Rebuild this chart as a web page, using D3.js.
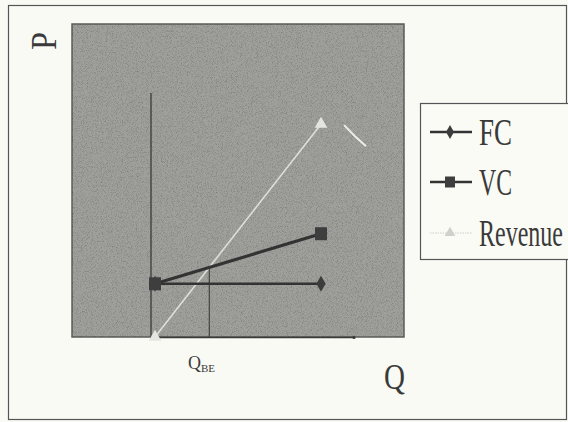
<!DOCTYPE html>
<html>
<head>
<meta charset="utf-8">
<script src="https://cdn.jsdelivr.net/npm/d3@7"></script>
<style>
  body { margin: 0; background: #fafaf5; }
  svg { display: block; }
  text { font-family: "Liberation Serif", "Times New Roman", serif; fill: #3a3a3a; }
</style>
</head>
<body>
<svg id="chart"></svg>
<script>
// data
var quantities = ["Q0", "Q1"];
var fc = [17, 17];
var vc = [17, 33];
var revenue = [0, 68];
var seriesNames = ["FC", "VC", "Revenue"];

var width = 568, height = 422;
var plot = {left: 72, right: 404, top: 24, bottom: 337};

var svg = d3.select("#chart")
    .attr("width", width)
    .attr("height", height);

// squeeze a text to a given width (scanned serif looks condensed)
function condensed(sel, px, py, w, rot) {
    var n = sel.node().getComputedTextLength();
    sel.attr("transform", "translate(" + px + "," + py + ")" + (rot ? " rotate(" + rot + ")" : "") + " scale(" + (w / n) + ",1)");
}

// scan grain
var defs = svg.append("defs");
var f = defs.append("filter").attr("id", "grain")
    .attr("x", 0).attr("y", 0).attr("width", 1).attr("height", 1);
f.append("feTurbulence")
    .attr("type", "fractalNoise")
    .attr("baseFrequency", 1.2)
    .attr("numOctaves", 1)
    .attr("seed", 3)
    .attr("result", "noise");
f.append("feColorMatrix")
    .attr("in", "noise")
    .attr("type", "matrix")
    .attr("values", "0 0 0 0 0  0 0 0 0 0  0 0 0 0 0  1.6 0 0 0 -0.75")
    .attr("result", "dots");
f.append("feComposite").attr("in", "dots").attr("in2", "SourceGraphic").attr("operator", "in");

// outer frame
svg.append("rect")
    .attr("x", 8.5).attr("y", 5.5)
    .attr("width", 558).attr("height", 414)
    .attr("fill", "none")
    .attr("stroke", "#555")
    .attr("stroke-width", 1.2);

// plot area
svg.append("rect")
    .attr("x", plot.left).attr("y", plot.top)
    .attr("width", plot.right - plot.left)
    .attr("height", plot.bottom - plot.top)
    .attr("fill", "#9f9f9b")
    .attr("stroke", "#5c5c5a")
    .attr("stroke-width", 1.5);
svg.append("rect")
    .attr("x", plot.left).attr("y", plot.top)
    .attr("width", plot.right - plot.left)
    .attr("height", plot.bottom - plot.top)
    .attr("fill", "#000")
    .attr("filter", "url(#grain)")
    .attr("opacity", 0.35);

var x = d3.scaleBand()
    .domain(quantities)
    .range([plot.left, plot.right]);

var y = d3.scaleLinear()
    .domain([0, 100])
    .range([plot.bottom, plot.top]);

var cx = (d, i) => x(quantities[i]) + x.bandwidth() / 2;

// hand drawn axes
var axisX = plot.left + 79;
svg.append("line")
    .attr("x1", axisX).attr("x2", axisX)
    .attr("y1", 93).attr("y2", y(0) + 1)
    .attr("stroke", "#3a3a3a").attr("stroke-width", 1.3);
svg.append("line")
    .attr("x1", axisX).attr("x2", 354)
    .attr("y1", y(0) + 0.5).attr("y2", y(0) + 0.5)
    .attr("stroke", "#3a3a3a").attr("stroke-width", 1.6);
svg.append("circle")
    .attr("cx", 354).attr("cy", y(0) + 0.5).attr("r", 1.6)
    .attr("fill", "#3a3a3a");

// break even point: where revenue meets VC
var t = (vc[0] - revenue[0]) / ((revenue[1] - revenue[0]) - (vc[1] - vc[0]));
var beX = cx(null, 0) + t * (cx(null, 1) - cx(null, 0));
var beY = y(revenue[0] + t * (revenue[1] - revenue[0]));
svg.append("line")
    .attr("x1", beX).attr("x2", beX)
    .attr("y1", beY).attr("y2", y(0))
    .attr("stroke", "#333").attr("stroke-width", 1);

var line = d3.line().x(cx).y(d => y(d));

// revenue
svg.append("path")
    .datum(revenue)
    .attr("d", line)
    .attr("fill", "none")
    .attr("stroke", "#dededa")
    .attr("stroke-width", 1.6);
svg.selectAll(".revpt").data(revenue).enter().append("path")
    .attr("transform", (d, i) => "translate(" + cx(d, i) + "," + y(d) + ")")
    .attr("d", d3.symbol(d3.symbolTriangle, 70))
    .attr("fill", "#e4e4e0");
// stray white pen stroke next to the revenue end
svg.append("path")
    .attr("d", d3.line()([[cx(null, 1) + 23, y(revenue[1]) + 1], [cx(null, 1) + 34, y(revenue[1]) + 12], [cx(null, 1) + 45, y(revenue[1]) + 22]]))
    .attr("stroke", "#ecece8")
    .attr("stroke-width", 2)
    .attr("fill", "none");

// FC
svg.append("path")
    .datum(fc)
    .attr("d", line)
    .attr("fill", "none")
    .attr("stroke", "#333")
    .attr("stroke-width", 2.4);
svg.selectAll(".fcpt").data(fc).enter().append("path")
    .attr("transform", (d, i) => "translate(" + cx(d, i) + "," + y(d) + ")")
    .attr("d", d3.symbol(d3.symbolDiamond, 75))
    .attr("fill", "#3c3c3c");

// VC
svg.append("path")
    .datum(vc)
    .attr("d", line)
    .attr("fill", "none")
    .attr("stroke", "#333")
    .attr("stroke-width", 3);
svg.selectAll(".vcpt").data(vc).enter().append("rect")
    .attr("x", (d, i) => cx(d, i) - 6)
    .attr("y", d => y(d) - 6.5)
    .attr("width", 12).attr("height", 13)
    .attr("fill", "#3e3e3e");

// legend
var legend = svg.append("g");
legend.append("rect")
    .attr("x", 420.5).attr("y", 103.5)
    .attr("width", 160).attr("height", 156)
    .attr("fill", "#fbfbf6")
    .attr("stroke", "#555")
    .attr("stroke-width", 1.2);
var legY = [132, 182, 233];
var legLen = [33, 33, 84];
seriesNames.forEach(function(name, i) {
    var g = legend.append("g").attr("transform", "translate(0," + legY[i] + ")");
    g.append("line")
        .attr("x1", 430).attr("x2", 472)
        .attr("stroke", i < 2 ? "#333" : "#cfcfcb")
        .attr("stroke-width", i < 2 ? 2.4 : 1.2)
        .attr("stroke-dasharray", i < 2 ? null : "1.5,1");
    if (i == 0) {
        g.append("path").attr("transform", "translate(450,0)")
            .attr("d", d3.symbol(d3.symbolDiamond, 55)).attr("fill", "#3c3c3c");
    } else if (i == 1) {
        g.append("rect").attr("x", 445).attr("y", -5.5)
            .attr("width", 10).attr("height", 11).attr("fill", "#3e3e3e");
    } else {
        g.append("path").attr("transform", "translate(450,0)")
            .attr("d", d3.symbol(d3.symbolTriangle, 50)).attr("fill", "#d0d0cc");
    }
    var txt = g.append("text")
        .attr("font-size", 37)
        .text(name);
    condensed(txt, 479, 13, legLen[i]);
});

// axis letters
var pLabel = svg.append("text")
    .attr("text-anchor", "middle")
    .attr("font-size", 36)
    .text("P");
condensed(pLabel, 56, 41, 18, -90);
var qLabel = svg.append("text")
    .attr("font-size", 35)
    .text("Q");
condensed(qLabel, 384, 389, 21);

var qbe = svg.append("text")
    .attr("x", 188).attr("y", 369)
    .attr("font-family", "DejaVu Serif")
    .attr("font-size", 18);
qbe.append("tspan").text("Q");
qbe.append("tspan").attr("font-size", 11).attr("dy", 3).text("BE");
</script>
</body>
</html>
